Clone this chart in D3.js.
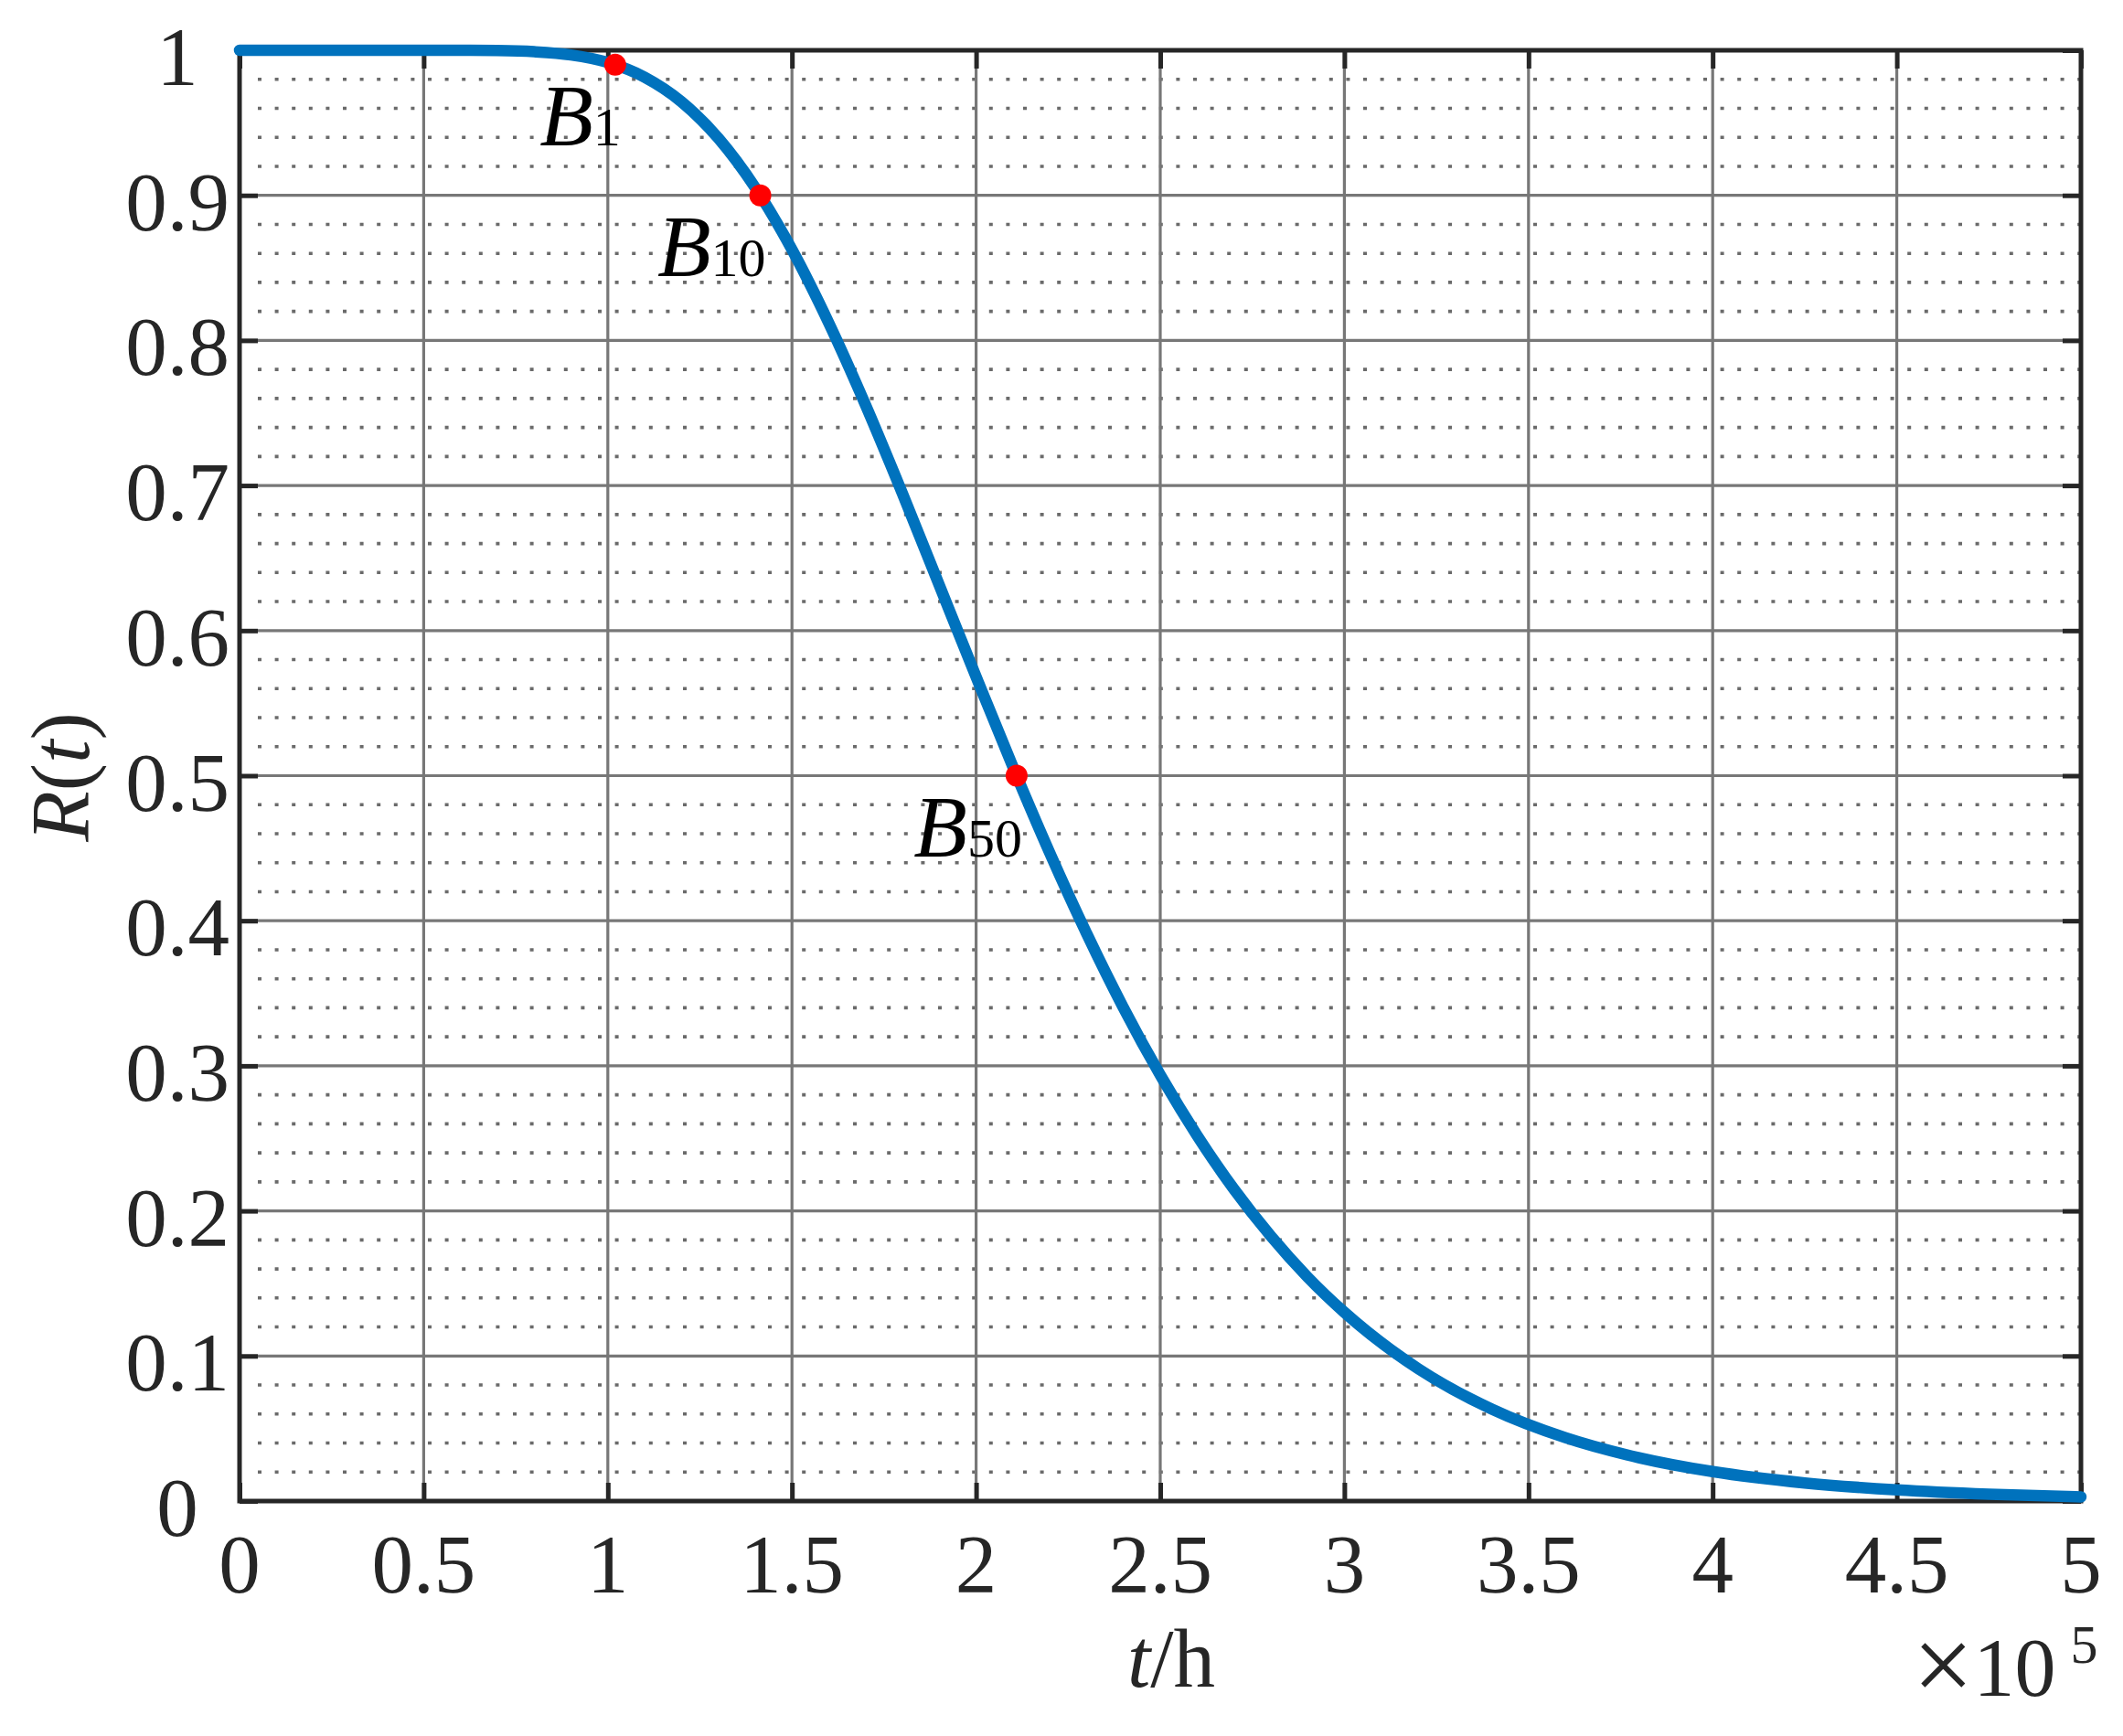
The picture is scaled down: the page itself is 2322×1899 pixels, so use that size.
<!DOCTYPE html>
<html>
<head>
<meta charset="utf-8">
<script src="https://cdn.jsdelivr.net/npm/d3@7"></script>
<style>
  html, body { margin: 0; padding: 0; background: #ffffff; }
  svg { display: block; }
  text { font-family: "Liberation Serif", "Times New Roman", serif; }
</style>
</head>
<body>
<script>
// ---- data (t in units of 10^5 h) ----
const tValues = [0, 0.25, 0.5, 0.6, 0.7, 0.8, 0.9, 1.0, 1.1, 1.2, 1.3, 1.4, 1.5, 1.6, 1.7, 1.8, 1.9, 2.0, 2.1, 2.2, 2.3, 2.4, 2.5, 2.6, 2.7, 2.8, 2.9, 3.0, 3.2, 3.4, 3.6, 3.8, 4.0, 4.25, 4.5, 4.75, 5.0];
const rValues = [1.0, 1.0, 1.0, 1.0, 0.9998, 0.9990, 0.9968, 0.9916, 0.9814, 0.9645, 0.9394, 0.9054, 0.8626, 0.8120, 0.7554, 0.6945, 0.6313, 0.5681, 0.5061, 0.4468, 0.3913, 0.3401, 0.2937, 0.2520, 0.2150, 0.1827, 0.1544, 0.1301, 0.0913, 0.0634, 0.0437, 0.0299, 0.0203, 0.0125, 0.0077, 0.0047, 0.0029];

const bLabels = ["1", "10", "50"];
const bT = [1.02, 1.414, 2.11];
const bR = [0.99, 0.90, 0.50];

const xTicks = [0, 0.5, 1, 1.5, 2, 2.5, 3, 3.5, 4, 4.5, 5];
const xTickLabels = ["0", "0.5", "1", "1.5", "2", "2.5", "3", "3.5", "4", "4.5", "5"];
const yTicks = [0, 0.1, 0.2, 0.3, 0.4, 0.5, 0.6, 0.7, 0.8, 0.9, 1];
const yTickLabels = ["0", "0.1", "0.2", "0.3", "0.4", "0.5", "0.6", "0.7", "0.8", "0.9", "1"];
const yMinor = d3.range(0, 51).map(i => i / 50).filter((v, i) => i % 5 !== 0);

// ---- layout ----
const W = 2322, H = 1899;
const L = 262, R = 2276, T = 55, B = 1642;
const axisColor = "#262626";

const x = d3.scaleLinear().domain([0, 5]).range([L, R]);
const y = d3.scaleLinear().domain([0, 1]).range([B, T]);

const svg = d3.select("body").append("svg").attr("width", W).attr("height", H);
svg.append("rect").attr("width", W).attr("height", H).attr("fill", "#fff");

// minor dotted grid (horizontal)
svg.append("g").selectAll("line").data(yMinor).join("line")
  .attr("x1", L + 6).attr("x2", R)
  .attr("y1", d => y(d)).attr("y2", d => y(d))
  .attr("stroke", "#6a6a6a").attr("stroke-width", 3.6)
  .attr("stroke-dasharray", "4,14.6").attr("stroke-dashoffset", -14);

// major grid
const grid = svg.append("g").attr("stroke", "#777777").attr("stroke-width", 3.2);
grid.selectAll("line.v").data(xTicks.slice(1, -1)).join("line").attr("class", "v")
  .attr("x1", d => x(d)).attr("x2", d => x(d)).attr("y1", T).attr("y2", B);
grid.selectAll("line.h").data(yTicks.slice(1, -1)).join("line").attr("class", "h")
  .attr("y1", d => y(d)).attr("y2", d => y(d)).attr("x1", L).attr("x2", R);

// axes via d3 axis generators (inward ticks)
const tickLen = 20;
function styleAxis(g) {
  g.select(".domain").remove();
  g.selectAll(".tick line").attr("stroke", axisColor).attr("stroke-width", 5);
  g.selectAll(".tick text").remove();
}
svg.append("g").attr("transform", `translate(0,${B})`)
  .call(d3.axisBottom(x).tickValues(xTicks).tickSizeInner(-tickLen).tickSizeOuter(0)).call(styleAxis);
svg.append("g").attr("transform", `translate(0,${T})`)
  .call(d3.axisTop(x).tickValues(xTicks).tickSizeInner(-tickLen).tickSizeOuter(0)).call(styleAxis);
svg.append("g").attr("transform", `translate(${L},0)`)
  .call(d3.axisLeft(y).tickValues(yTicks).tickSizeInner(-tickLen).tickSizeOuter(0)).call(styleAxis);
svg.append("g").attr("transform", `translate(${R},0)`)
  .call(d3.axisRight(y).tickValues(yTicks).tickSizeInner(-tickLen).tickSizeOuter(0)).call(styleAxis);

// box
svg.append("rect").attr("x", L).attr("y", T).attr("width", R - L).attr("height", B - T)
  .attr("fill", "none").attr("stroke", axisColor).attr("stroke-width", 5);

// tick labels
svg.append("g").selectAll("text").data(xTicks).join("text")
  .attr("x", d => x(d)).attr("y", B + 100)
  .attr("text-anchor", "middle").attr("font-size", 91).attr("fill", axisColor)
  .text((d, i) => xTickLabels[i]);
svg.append("g").selectAll("text").data(yTicks).join("text")
  .attr("x", 194).attr("y", d => y(d) + 38)
  .attr("text-anchor", "middle").attr("font-size", 91).attr("fill", axisColor)
  .text((d, i) => yTickLabels[i]);

// axis titles
const xt = svg.append("text").attr("x", 1281).attr("y", 1845)
  .attr("text-anchor", "middle").attr("font-size", 91).attr("fill", axisColor);
xt.append("tspan").attr("font-style", "italic").text("t");
xt.append("tspan").text("/h");

const mult = svg.append("text").attr("x", 2092).attr("y", 1855)
  .attr("font-size", 90).attr("fill", axisColor);
mult.append("tspan").attr("font-size", 118).attr("dy", 6).text("\u00D7");
mult.append("tspan").attr("dy", -6).text("10");
mult.append("tspan").attr("font-size", 60).attr("dx", 16).attr("dy", -36).text("5");

const yt = svg.append("text").attr("transform", "translate(97,850) rotate(-90)")
  .attr("text-anchor", "middle").attr("font-size", 91).attr("fill", axisColor);
yt.append("tspan").attr("font-style", "italic").text("R");
yt.append("tspan").text("(");
yt.append("tspan").attr("font-style", "italic").text("t");
yt.append("tspan").text(")");

// curve
const pts = tValues.map((t, i) => [t, rValues[i]]);
svg.append("path").datum(pts)
  .attr("d", d3.line().x(d => x(d[0])).y(d => y(d[1])).curve(d3.curveMonotoneX))
  .attr("fill", "none").attr("stroke", "#0072BD").attr("stroke-width", 12.5)
  .attr("stroke-linecap", "round").attr("stroke-linejoin", "round");

// B points
svg.append("g").selectAll("circle").data(bT).join("circle")
  .attr("cx", d => x(d)).attr("cy", (d, i) => y(bR[i])).attr("r", 12)
  .attr("fill", "#ff0000");

const lab = svg.append("g").selectAll("text").data(bT).join("text")
  .attr("x", d => x(d) + 6).attr("y", (d, i) => y(bR[i]) + 88)
  .attr("text-anchor", "end").attr("fill", "#000");
lab.append("tspan").attr("font-style", "italic").attr("font-size", 96).text("B");
lab.append("tspan").attr("font-size", 60).text((d, i) => bLabels[i]);
</script>
</body>
</html>
